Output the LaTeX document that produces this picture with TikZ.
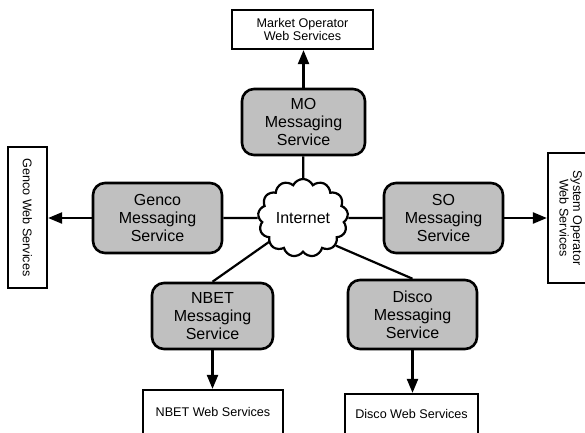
\documentclass[tikz,border=0pt]{standalone}
\usepackage{fontspec}
\setmainfont{Liberation Sans}
\usetikzlibrary{shapes.symbols,arrows.meta}
\pgfdeclarelayer{bg}
\pgfsetlayers{bg,main}
\definecolor{boxgray}{RGB}{192,192,192}
\begin{document}
\begin{tikzpicture}[x=1pt,y=-1pt,
  msg/.style={draw, line width=2.6pt, fill=boxgray, rounded corners=12pt, align=center,
    font=\fontsize{16}{18}\selectfont, inner sep=0pt},
  web/.style={draw, line width=2.2pt, fill=white, align=center,
    font=\fontsize{12.6}{13.5}\selectfont, inner sep=0pt},
  conn/.style={line width=2.2pt},
  arr/.style={conn, -{Triangle[length=14pt,width=11pt]}}]
\useasboundingbox (0,0) rectangle (585,432);

\node[web, minimum width=141pt, minimum height=39pt] (mow) at (302.5,29.5) {Market Operator\\Web Services};
\node[msg, minimum width=123pt, minimum height=66pt] (mo) at (303.5,122) {MO\\Messaging\\Service};
\node[msg, minimum width=129pt, minimum height=70pt] (genco) at (157.5,218) {Genco\\Messaging\\Service};
\node[msg, minimum width=119pt, minimum height=70pt] (so) at (443.5,218) {SO\\Messaging\\Service};
\node[msg, minimum width=121pt, minimum height=66pt] (nbet) at (212.5,316) {NBET\\Messaging\\Service};
\node[msg, minimum width=129pt, minimum height=69pt] (disco) at (412.5,314.5) {Disco\\Messaging\\Service};
\node[web, minimum width=140pt, minimum height=44pt] (nbetw) at (213,412) {NBET Web Services};
\node[web, minimum width=133pt, minimum height=40pt] (discow) at (411.5,414) {Disco Web Services};
\node[web, minimum width=39pt, minimum height=141pt] (gencow) at (27.5,217.5) {\rotatebox{-90}{Genco Web Services}};
\node[web, minimum width=42pt, minimum height=130pt] (sow) at (569,218)
  {\rotatebox{-90}{\begin{tabular}{@{}c@{}}System Operator\\Web Services\end{tabular}}};

\node[cloud, draw, line width=2.2pt, fill=white, cloud puffs=13, cloud puff arc=130, aspect=1.15,
  minimum width=90pt, minimum height=78pt, inner sep=0pt,
  font=\fontsize{16}{18}\selectfont] (inet) at (303,218) {Internet};

\begin{pgfonlayer}{bg}
\draw[conn] (mo) -- (inet);
\draw[conn] (genco) -- (inet);
\draw[conn] (so) -- (inet);
\draw[conn] (inet.center) -- (nbet.north);
\draw[conn] (inet.-40) -- (disco.north);
\end{pgfonlayer}

\draw[arr] (mo.north) -- (mo.north |- mow.south);
\draw[arr] (genco.west) -- (genco.west -| gencow.east);
\draw[arr] (so.east) -- (so.east -| sow.west);
\draw[arr] (nbet.south) -- (nbet.south |- nbetw.north);
\draw[arr] (disco.south) -- (disco.south |- discow.north);
\end{tikzpicture}
\end{document}
